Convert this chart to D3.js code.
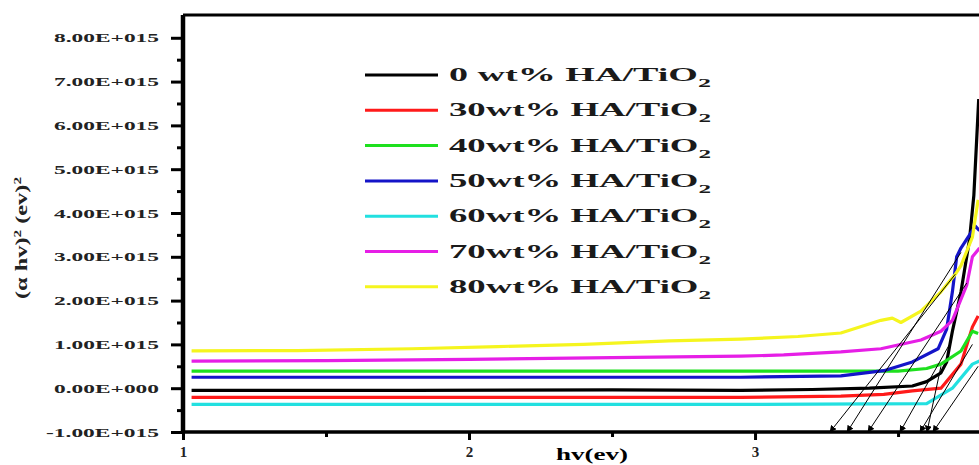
<!DOCTYPE html>
<html>
<head>
<meta charset="utf-8">
<script src="https://cdn.jsdelivr.net/npm/d3@7"></script>
<style>
  body { margin: 0; background: #fff; }
  svg { display: block; }
</style>
</head>
<body>
<div id="chart"></div>
<script>
// values, y in units of 1E+015
const seriesNames = ['0 wt% HA/TiO', '30wt% HA/TiO', '40wt% HA/TiO', '50wt% HA/TiO', '60wt% HA/TiO', '70wt% HA/TiO', '80wt% HA/TiO'];
const seriesColors = ['#000000', '#ff1a1a', '#1ee01e', '#1414c8', '#22e0e0', '#e61ee6', '#f5f51e'];

const wt0 = [[1.03, -0.05], [1.8, -0.05], [2.5, -0.04], [2.95, -0.05], [3.2, -0.03], [3.4, 0.0], [3.55, 0.05], [3.6, 0.15], [3.65, 0.35], [3.67, 0.6], [3.69, 1.3], [3.72, 2.2], [3.75, 3.4], [3.765, 4.4], [3.782, 6.6]];
const wt30 = [[1.03, -0.21], [2.0, -0.21], [2.95, -0.21], [3.3, -0.18], [3.45, -0.14], [3.55, -0.06], [3.65, 0.0], [3.72, 0.55], [3.76, 1.4], [3.78, 1.65]];
const wt40 = [[1.03, 0.39], [2.0, 0.39], [2.95, 0.39], [3.5, 0.39], [3.6, 0.45], [3.65, 0.55], [3.72, 0.85], [3.76, 1.3], [3.78, 1.25]];
const wt50 = [[1.03, 0.25], [2.0, 0.25], [2.95, 0.25], [3.3, 0.28], [3.45, 0.4], [3.55, 0.6], [3.64, 0.9], [3.67, 1.35], [3.69, 2.2], [3.705, 3.0], [3.72, 3.2], [3.75, 3.5], [3.77, 3.7], [3.785, 3.6]];
const wt60 = [[1.03, -0.37], [2.0, -0.37], [3.0, -0.37], [3.6, -0.35], [3.69, 0.0], [3.76, 0.55], [3.785, 0.62]];
const wt70 = [[1.03, 0.62], [1.5, 0.63], [2.0, 0.66], [2.5, 0.7], [2.95, 0.73], [3.1, 0.76], [3.3, 0.83], [3.44, 0.9], [3.58, 1.1], [3.65, 1.3], [3.69, 1.55], [3.74, 2.35], [3.76, 3.0], [3.785, 3.2]];
const wt80 = [[1.03, 0.85], [1.4, 0.86], [1.8, 0.9], [2.1, 0.95], [2.4, 1.0], [2.7, 1.08], [2.95, 1.12], [3.15, 1.18], [3.3, 1.26], [3.44, 1.55], [3.48, 1.6], [3.51, 1.5], [3.58, 1.76], [3.65, 2.2], [3.7, 2.6], [3.72, 2.8], [3.76, 3.45], [3.78, 4.3]];
const seriesData = [wt0, wt30, wt40, wt50, wt60, wt70, wt80];

// tangent extrapolations: [x start, y start, x intercept]
const tangents = [[3.70, 2.6, 3.262], [3.72, 3.1, 3.322], [3.74, 2.4, 3.395], [3.68, 1.0, 3.507], [3.76, 1.0, 3.577], [3.65, 0.5, 3.601], [3.78, 0.5, 3.622]];

const xTicks = [1, 2, 3];
const xMinor = [1.5, 2.5, 3.5];
const yTicks = [-1, 0, 1, 2, 3, 4, 5, 6, 7, 8];
const yMinor = [-0.5, 0.5, 1.5, 2.5, 3.5, 4.5, 5.5, 6.5, 7.5];
const yTickLabels = ['-1.00E+015', '0.00E+000', '1.00E+015', '2.00E+015', '3.00E+015', '4.00E+015', '5.00E+015', '6.00E+015', '7.00E+015', '8.00E+015'];

const WIDTH = 979;
const HEIGHT = 465;
const FONT = '"Liberation Serif", "Times New Roman", serif';

const svg = d3.select('#chart')
  .append('svg')
  .attr('width', WIDTH)
  .attr('height', HEIGHT);

const xScale = d3.scaleLinear().domain([1, 3.79]).range([183, 981]);
const yScale = d3.scaleLinear().domain([-1, 8.52]).range([432, 15]);

svg.append('defs').append('marker')
  .attr('id', 'arrow')
  .attr('viewBox', '0 0 10 10')
  .attr('refX', 9)
  .attr('refY', 5)
  .attr('markerWidth', 7)
  .attr('markerHeight', 7)
  .attr('orient', 'auto')
  .append('path')
  .attr('d', 'M0,0 L10,5 L0,10 z')
  .attr('fill', '#000');

// data lines
const line = d3.line()
  .x((d) => xScale(d[0]))
  .y((d) => yScale(d[1]));

seriesData.forEach((data, i) => {
  svg.append('path')
    .datum(data)
    .attr('fill', 'none')
    .attr('stroke', seriesColors[i])
    .attr('stroke-width', 3.2)
    .attr('stroke-linejoin', 'round')
    .attr('d', line);
});

// tangent arrows down to the axis
tangents.forEach((t) => {
  svg.append('line')
    .attr('x1', xScale(t[0]))
    .attr('y1', yScale(t[1]))
    .attr('x2', xScale(t[2]))
    .attr('y2', yScale(-1))
    .attr('stroke', '#000')
    .attr('stroke-width', 1)
    .attr('marker-end', 'url(#arrow)');
});

// axes
const xAxis = svg.append('g')
  .attr('transform', `translate(0,${yScale(-1)})`)
  .call(d3.axisBottom(xScale).tickValues(xTicks).tickSize(8).tickPadding(6).tickFormat(d3.format('d')));
svg.append('g')
  .attr('transform', `translate(0,${yScale(-1)})`)
  .call(d3.axisBottom(xScale).tickValues(xMinor).tickSize(5).tickFormat(''))
  .call((g) => g.select('.domain').remove());

const yAxis = svg.append('g')
  .attr('transform', `translate(${xScale(1)},0)`)
  .call(d3.axisLeft(yScale).tickValues(yTicks).tickSize(12).tickPadding(12)
    .tickFormat((d, i) => yTickLabels[i]));
svg.append('g')
  .attr('transform', `translate(${xScale(1)},0)`)
  .call(d3.axisLeft(yScale).tickValues(yMinor).tickSize(6).tickFormat(''))
  .call((g) => g.select('.domain').remove());

svg.selectAll('.tick line').attr('stroke', '#000').attr('stroke-width', 3);
xAxis.select('.domain').attr('stroke-width', 3.5).attr('d', `M${xScale(1)},0H${WIDTH}`);
yAxis.select('.domain').attr('stroke-width', 4.5).attr('d', `M0,${yScale(8.52)}V${yScale(-1)}`);

xAxis.selectAll('text')
  .attr('font-family', FONT)
  .attr('font-weight', 'bold')
  .attr('font-size', 15)
  .attr('fill', '#222');

yAxis.selectAll('text')
  .attr('font-family', FONT)
  .attr('font-weight', 'bold')
  .attr('font-size', 13)
  .attr('fill', '#222')
  .attr('textLength', (d) => (d < 0 ? 113 : 105))
  .attr('lengthAdjust', 'spacingAndGlyphs');

// top frame
svg.append('line')
  .attr('x1', xScale(1))
  .attr('x2', WIDTH)
  .attr('y1', yScale(8.52))
  .attr('y2', yScale(8.52))
  .attr('stroke', '#000')
  .attr('stroke-width', 3);

// axis titles
svg.append('text')
  .attr('x', 592)
  .attr('y', 460)
  .attr('text-anchor', 'middle')
  .attr('font-family', FONT)
  .attr('font-weight', 'bold')
  .attr('font-size', 17)
  .attr('textLength', 72)
  .attr('lengthAdjust', 'spacingAndGlyphs')
  .text('hv(ev)');

const yTitle = svg.append('text')
  .attr('transform', 'translate(27,238) rotate(-90)')
  .attr('text-anchor', 'middle')
  .attr('font-family', FONT)
  .attr('font-weight', 'bold')
  .attr('font-size', 16)
  .attr('fill', '#222')
  .attr('textLength', 122)
  .attr('lengthAdjust', 'spacingAndGlyphs');
yTitle.append('tspan').text('(α hv)');
yTitle.append('tspan').attr('dy', -6).attr('font-size', 10).text('2');
yTitle.append('tspan').attr('dy', 6).text(' (ev)');
yTitle.append('tspan').attr('dy', -6).attr('font-size', 10).text('2');

// legend
const legend = svg.append('g');
seriesNames.forEach((name, i) => {
  const y = 75 + i * 35.3;
  legend.append('line')
    .attr('x1', 365)
    .attr('x2', 438)
    .attr('y1', y)
    .attr('y2', y)
    .attr('stroke', seriesColors[i])
    .attr('stroke-width', 3);
  const t = legend.append('text')
    .attr('x', 449)
    .attr('y', y + 6)
    .attr('font-family', FONT)
    .attr('font-weight', 'bold')
    .attr('font-size', 19)
    .attr('fill', '#1a1a1a')
    .attr('textLength', 262)
    .attr('lengthAdjust', 'spacingAndGlyphs');
  t.append('tspan').text(name);
  t.append('tspan').attr('dy', 6).attr('font-size', 13).text('2');
});
</script>
</body>
</html>
